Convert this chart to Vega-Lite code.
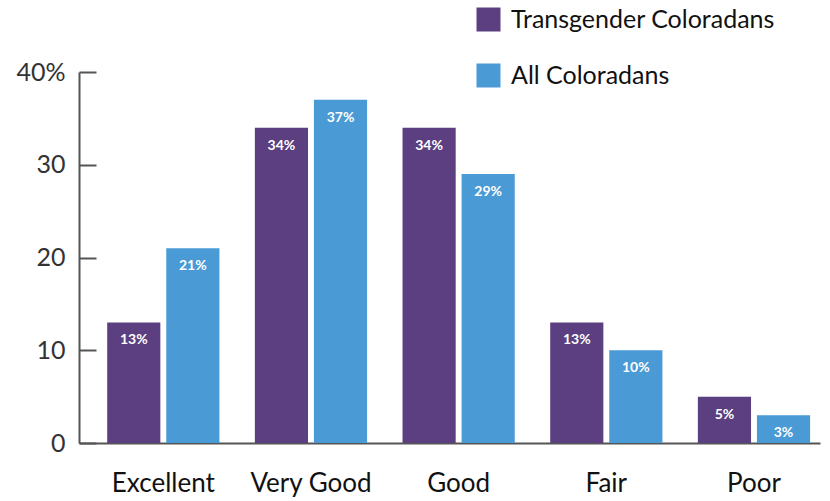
{
  "$schema": "https://vega.github.io/schema/vega-lite/v6.json",
  "width": 741,
  "height": 371,
  "autosize": {"type": "none"},
  "padding": {"left": 79, "top": 72, "right": 10, "bottom": 58},
  "background": "white",
  "config": {"view": {"stroke": null}, "font": "Lato"},
  "data": {
    "values": [
      {"rating": "Excellent", "group": "Transgender Coloradans", "pct": 13},
      {"rating": "Excellent", "group": "All Coloradans", "pct": 21},
      {"rating": "Very Good", "group": "Transgender Coloradans", "pct": 34},
      {"rating": "Very Good", "group": "All Coloradans", "pct": 37},
      {"rating": "Good", "group": "Transgender Coloradans", "pct": 34},
      {"rating": "Good", "group": "All Coloradans", "pct": 29},
      {"rating": "Fair", "group": "Transgender Coloradans", "pct": 13},
      {"rating": "Fair", "group": "All Coloradans", "pct": 10},
      {"rating": "Poor", "group": "Transgender Coloradans", "pct": 5},
      {"rating": "Poor", "group": "All Coloradans", "pct": 3}
    ]
  },
  "encoding": {
    "x": {
      "field": "rating", "type": "nominal", "sort": null,
      "scale": {"paddingInner": 0.24, "paddingOuter": 0.129, "align": 0.74},
      "axis": {"title": null, "labelAngle": 0, "ticks": false, "labelFontSize": 26, "labelColor": "#111", "labelPadding": 27, "domainColor": "#555", "domainWidth": 2}
    },
    "xOffset": {
      "field": "group", "type": "nominal", "sort": ["Transgender Coloradans", "All Coloradans"],
      "scale": {"paddingInner": 0.1, "paddingOuter": 0}
    },
    "y": {
      "field": "pct", "type": "quantitative",
      "scale": {"domain": [0, 40], "nice": false},
      "axis": {"title": null, "values": [0, 10, 20, 30, 40], "grid": false, "tickSize": -17, "tickColor": "#555", "tickWidth": 2, "labelPadding": 31, "labelFontSize": 25, "labelColor": "#333", "domainColor": "#555", "domainWidth": 2, "labelExpr": "datum.value == 40 ? '40%' : datum.label"}
    }
  },
  "layer": [
    {
      "mark": {"type": "bar"},
      "encoding": {
        "color": {
          "field": "group", "type": "nominal",
          "scale": {"domain": ["Transgender Coloradans", "All Coloradans"], "range": ["#5b3f80", "#4a9ad6"]},
          "legend": {"title": null, "orient": "none", "legendX": 397, "legendY": -65, "symbolType": "square", "symbolSize": 576, "symbolStrokeWidth": 0, "symbolOpacity": 1, "labelFontSize": 25, "labelColor": "#111", "labelOffset": 10, "labelLimit": 0, "rowPadding": 30, "padding": 0}
        }
      }
    },
    {
      "transform": [{"calculate": "datum.pct + '%'", "as": "label"}],
      "mark": {"type": "text", "color": "white", "fontWeight": "bold", "fontSize": 14, "baseline": "middle", "dy": 18},
      "encoding": {"text": {"field": "label", "type": "nominal"}, "detail": {"field": "group"}}
    }
  ]
}
